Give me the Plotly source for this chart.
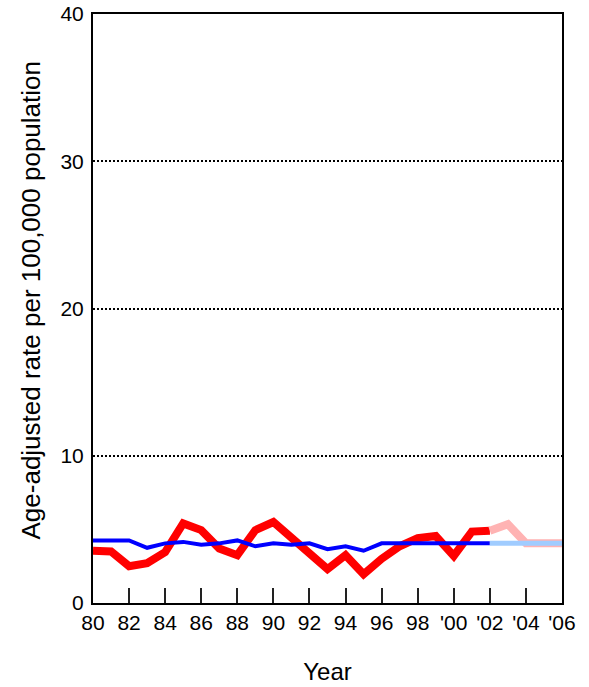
import plotly.graph_objects as go

# Age-adjusted rates per 100,000 population, by year
years_obs = list(range(1980, 2003))
rate_group = [3.55, 3.5, 2.5, 2.7, 3.45, 5.4, 4.95, 3.7, 3.25, 4.95, 5.5, 4.45,
              3.4, 2.3, 3.25, 1.95, 3.0, 3.85, 4.4, 4.55, 3.2, 4.85, 4.9]
rate_reference = [4.25, 4.25, 4.25, 3.75, 4.05, 4.15, 3.95, 4.05, 4.25, 3.85, 4.05,
                  3.95, 4.05, 3.65, 3.85, 3.55, 4.05, 4.05, 4.05, 4.05, 4.05, 4.05, 4.05]

# Projected values
years_proj = [2002, 2003, 2004, 2005, 2006]
proj_group = [4.9, 5.35, 4.05, 4.05, 4.05]
proj_reference = [4.05, 4.05, 4.05, 4.05, 4.05]

tick_years = list(range(1980, 2007, 2))
tick_labels = ["80", "82", "84", "86", "88", "90", "92", "94", "96", "98",
               "'00", "'02", "'04", "'06"]

FONT = "Arial, Liberation Sans, sans-serif"

fig = go.Figure()
fig.add_trace(go.Scatter(x=years_obs, y=rate_group, mode="lines",
                         line=dict(color="#FF0000", width=8), showlegend=False))
fig.add_trace(go.Scatter(x=years_proj, y=proj_group, mode="lines",
                         line=dict(color="#FFB3B3", width=8), showlegend=False))
fig.add_trace(go.Scatter(x=years_obs, y=rate_reference, mode="lines",
                         line=dict(color="#0000FF", width=4), showlegend=False))
fig.add_trace(go.Scatter(x=years_proj, y=proj_reference, mode="lines",
                         line=dict(color="#A0CCFF", width=5), showlegend=False))

fig.update_layout(
    width=589, height=687,
    margin=dict(l=93, r=27, t=14, b=84),
    plot_bgcolor="white", paper_bgcolor="white",
    font=dict(family=FONT, color="black"),
    xaxis=dict(
        range=[1980, 2006], tickvals=tick_years, ticktext=tick_labels,
        ticks="inside", ticklen=15, tickwidth=1.5, tickcolor="#222",
        tickfont=dict(size=21), ticklabelstandoff=0,
        showgrid=False, zeroline=False,
        showline=True, linecolor="black", linewidth=2, mirror=True,
        title=dict(text="Year", font=dict(size=24), standoff=30),
        automargin=False,
    ),
    yaxis=dict(
        range=[0, 40], tickvals=[0, 10, 20, 30, 40],
        ticks="", tickfont=dict(size=21), ticklabelstandoff=3,
        showgrid=True, gridcolor="black", gridwidth=2, griddash="2px,2px",
        zeroline=False,
        showline=True, linecolor="black", linewidth=2, mirror=True,
        automargin=False,
    ),
    annotations=[dict(
        text="Age-adjusted rate per 100,000 population",
        xref="paper", yref="paper", x=0, y=0.5, xshift=-63, yshift=8,
        xanchor="center", yanchor="middle", textangle=-90,
        showarrow=False, font=dict(size=26),
    )],
)

fig.write_html("out.html")
